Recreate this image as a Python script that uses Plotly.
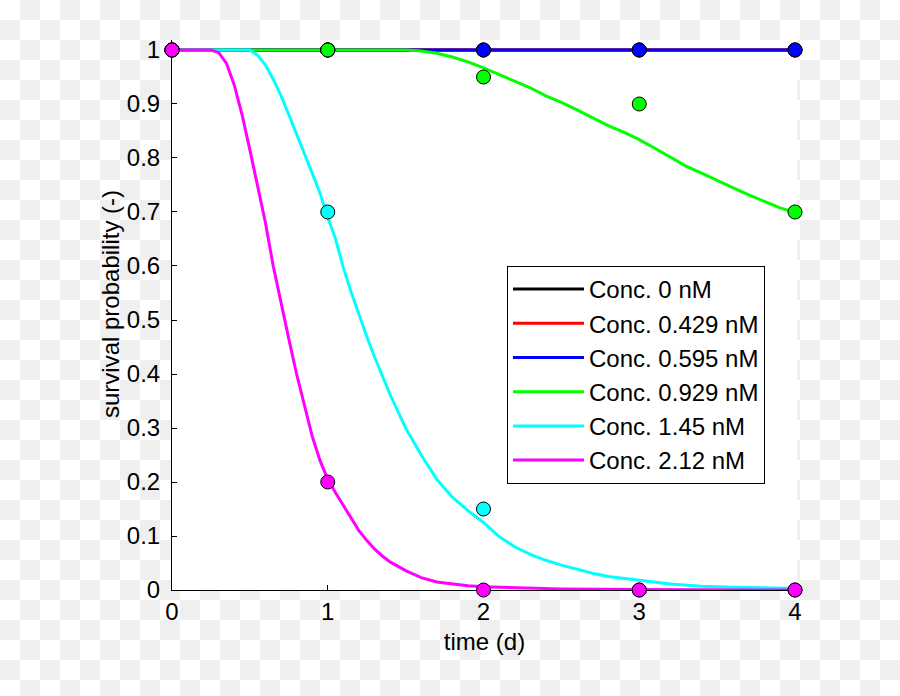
import plotly.graph_objects as go

# ---------------- data ----------------
conc_labels = ["Conc. 0 nM", "Conc. 0.429 nM", "Conc. 0.595 nM",
               "Conc. 0.929 nM", "Conc. 1.45 nM", "Conc. 2.12 nM"]
series_colors = ["#000000", "#ff0000", "#0000ff", "#00ff00", "#00ffff", "#ff00ff"]

obs_time = [0, 1, 2, 3, 4]
obs_c0 = [1, 1, 1, 1, 1]
obs_c0429 = [1, 1, 1, 1, 1]
obs_c0595 = [1, 1, 1, 1, 1]
obs_c0929 = [1, 1, 0.95, 0.9, 0.7]
obs_c145 = [1, 0.7, 0.15, 0, 0]
obs_c212 = [1, 0.2, 0, 0, 0]

fit_t_c0 = [0, 4]
fit_c0 = [1, 1]
fit_t_c0429 = [0, 4]
fit_c0429 = [1, 1]
fit_t_c0595 = [0, 4]
fit_c0595 = [1, 1]

fit_t_c0929 = [0, 1.5, 1.6, 1.7, 1.8, 1.9, 2.0, 2.1, 2.2, 2.3, 2.4, 2.5, 2.6, 2.7,
               2.8, 2.9, 3.0, 3.1, 3.2, 3.3, 3.4, 3.5, 3.6, 3.7, 3.8, 3.9, 4.0]
fit_c0929 = [1, 1, 0.998, 0.994, 0.987, 0.978, 0.967, 0.955, 0.943, 0.93, 0.915,
             0.903, 0.889, 0.875, 0.86, 0.848, 0.834, 0.818, 0.802, 0.785, 0.772,
             0.758, 0.745, 0.732, 0.72, 0.708, 0.699]

fit_t_c145 = [0, 0.5, 0.55, 0.6, 0.65, 0.7, 0.75, 0.8, 0.85, 0.9, 0.95, 1.0, 1.05,
              1.1, 1.15, 1.2, 1.25, 1.3, 1.35, 1.4, 1.5, 1.6, 1.7, 1.8, 1.9, 2.0,
              2.1, 2.2, 2.3, 2.4, 2.5, 2.6, 2.7, 2.8, 2.9, 3.0, 3.2, 3.4, 3.6, 3.8, 4.0]
fit_c145 = [1, 1, 0.99, 0.972, 0.946, 0.915, 0.88, 0.845, 0.808, 0.772, 0.735, 0.69,
            0.65, 0.597, 0.552, 0.51, 0.47, 0.432, 0.396, 0.362, 0.30, 0.25, 0.205,
            0.172, 0.147, 0.125, 0.099, 0.08, 0.066, 0.055, 0.046, 0.038, 0.031,
            0.025, 0.021, 0.018, 0.011, 0.007, 0.005, 0.004, 0.003]

fit_t_c212 = [0, 0.25, 0.3, 0.35, 0.4, 0.45, 0.5, 0.55, 0.6, 0.65, 0.7, 0.75, 0.8,
              0.85, 0.9, 0.95, 1.0, 1.05, 1.1, 1.15, 1.2, 1.25, 1.3, 1.35, 1.4, 1.5,
              1.6, 1.7, 1.8, 1.9, 2.0, 2.2, 2.5, 3.0, 3.5, 4.0]
fit_c212 = [1, 1, 0.995, 0.975, 0.935, 0.88, 0.815, 0.75, 0.68, 0.60, 0.53, 0.465,
            0.40, 0.34, 0.285, 0.24, 0.205, 0.18, 0.157, 0.132, 0.11, 0.092, 0.076,
            0.063, 0.052, 0.036, 0.023, 0.015, 0.011, 0.008, 0.006, 0.004, 0.002,
            0.001, 0.0005, 0]

x_ticks = [0, 1, 2, 3, 4]
x_tick_text = ["0", "1", "2", "3", "4"]
y_ticks = [0, 0.1, 0.2, 0.3, 0.4, 0.5, 0.6, 0.7, 0.8, 0.9, 1.0]
y_tick_text = ["0", "0.1", "0.2", "0.3", "0.4", "0.5", "0.6", "0.7", "0.8", "0.9", "1"]
x_title = "time (d)"
y_title = "survival probability (-)"

fit_times = [fit_t_c0, fit_t_c0429, fit_t_c0595, fit_t_c0929, fit_t_c145, fit_t_c212]
fit_values = [fit_c0, fit_c0429, fit_c0595, fit_c0929, fit_c145, fit_c212]
obs_values = [obs_c0, obs_c0429, obs_c0595, obs_c0929, obs_c145, obs_c212]

# ---------------- layout constants ----------------
W, H = 900, 696
ML, MR, MT, MB = 172, 103, 40, 106
PW, PH = W - ML - MR, H - MT - MB
FONT = "Arial, Liberation Sans, Helvetica, sans-serif"
CELL = 20


def px_to_paper(px, py):
    return (px - ML) / PW, (H - MB - py) / PH


def checker_path():
    """Transparency-style checkerboard behind the figure, as one SVG path."""
    parts = []
    for r in range(H // CELL + 1):
        for c in range(W // CELL + 1):
            if (r + c) % 2:
                x0, y0 = px_to_paper(c * CELL, r * CELL)
                x1, y1 = px_to_paper((c + 1) * CELL, (r + 1) * CELL)
                parts.append(f"M{x0:.5f},{y0:.5f}H{x1:.5f}V{y1:.5f}H{x0:.5f}Z")
    return "".join(parts)


fig = go.Figure()

for name, col, tx, ty in zip(conc_labels, series_colors, fit_times, fit_values):
    fig.add_trace(go.Scatter(x=tx, y=ty, mode="lines", name=name,
                             line=dict(color=col, width=3), cliponaxis=False))

for name, col, oy in zip(conc_labels, series_colors, obs_values):
    fig.add_trace(go.Scatter(x=obs_time, y=oy, mode="markers", name=name,
                             showlegend=False, cliponaxis=False,
                             marker=dict(size=14, color=col,
                                         line=dict(color="#000000", width=1))))

axis_common = dict(
    showline=True, linecolor="black", linewidth=1,
    ticks="inside", ticklen=5, tickwidth=1, tickcolor="black",
    showgrid=False, zeroline=False, layer="below traces",
    tickfont=dict(family=FONT, size=24, color="black"),
)

ytx, yty = px_to_paper(110, 304)
lgx, lgy = px_to_paper(507, 266)

fig.update_layout(
    width=W, height=H,
    margin=dict(l=ML, r=MR, t=MT, b=MB, autoexpand=False),
    paper_bgcolor="white", plot_bgcolor="white",
    font=dict(family=FONT, size=24, color="black"),
    xaxis=dict(range=[0, 4.0128], tickvals=x_ticks, ticktext=x_tick_text,
               title=dict(text=x_title, font=dict(family=FONT, size=24), standoff=9),
               **axis_common),
    yaxis=dict(range=[0, 1.0185], tickvals=y_ticks, ticktext=y_tick_text,
               ticklabelstandoff=6, **axis_common),
    annotations=[dict(text=y_title, textangle=-90, xref="paper", yref="paper",
                      x=ytx, y=yty, xanchor="center", yanchor="middle",
                      showarrow=False, font=dict(family=FONT, size=24, color="black"))],
    legend=dict(x=lgx, y=lgy, xanchor="left", yanchor="top",
                bgcolor="white", bordercolor="black", borderwidth=1,
                font=dict(family=FONT, size=24, color="black"),
                itemwidth=71, tracegroupgap=0),
    shapes=[
        dict(type="path", xref="paper", yref="paper", path=checker_path(),
             fillcolor="#efefef", line=dict(width=0), layer="below"),
        dict(type="rect", xref="paper", yref="paper", x0=0, x1=1, y0=0, y1=1,
             fillcolor="white", line=dict(width=0), layer="below"),
    ],
    showlegend=True,
)

fig.write_html("out.html", config={"displayModeBar": False},
               post_script="document.body.style.margin='0';document.body.style.overflow='hidden';")
